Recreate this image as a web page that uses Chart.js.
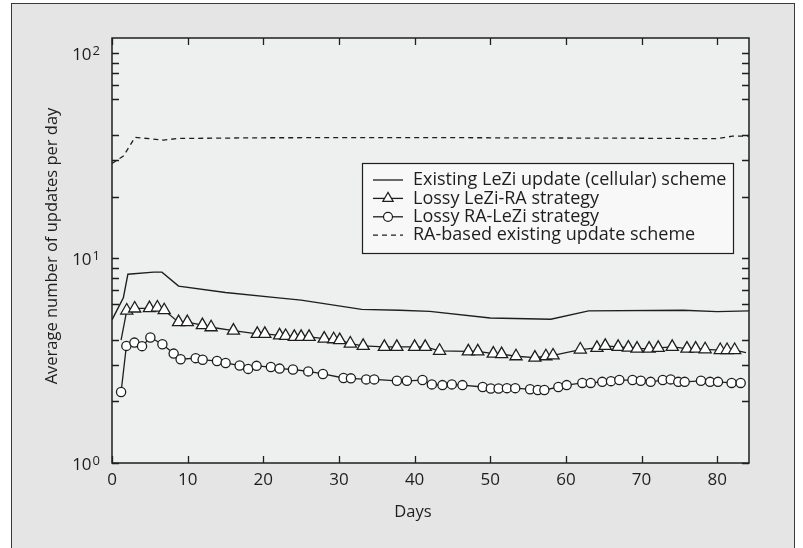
<!DOCTYPE html>
<html>
<head>
<meta charset="utf-8">
<script src="https://cdn.jsdelivr.net/npm/chart.js@4.4.1/dist/chart.umd.min.js"></script>
<style>
    html, body { margin: 0; padding: 0; background: #fff; }
    #wrap { position: relative; width: 803px; height: 548px; overflow: hidden; }
    #frame { position: absolute; left: 11px; top: 3px; width: 782px; height: 560px;
             border: 1px solid #3a3a3a; background: #e5e5e5; }
    #chart { position: absolute; left: 0; top: 0; }
</style>
</head>
<body>
<div id="wrap">
    <div id="frame"></div>
    <canvas id="chart" width="803" height="548"></canvas>
</div>
<script>
// series names
var series_names = [
    "Existing LeZi update (cellular) scheme",
    "Lossy LeZi-RA strategy",
    "Lossy RA-LeZi strategy",
    "RA-based existing update scheme"
];

// existing LeZi (solid line)
var lezi_days = [0, 1.5, 2.1, 5.5, 6.6, 8.8, 15, 22, 25, 33, 38, 42, 50, 58, 63, 75.5, 80, 84.2];
var lezi_vals = [5.0, 6.4, 8.35, 8.55, 8.55, 7.3, 6.8, 6.4, 6.24, 5.62, 5.57, 5.5, 5.1, 5.03, 5.53, 5.57, 5.48, 5.53];

// lossy LeZi-RA (triangles)
var lezira_days = [1.2, 1.95, 3.0, 4.95, 6.0, 6.9, 8.8, 9.95, 11.95, 13.1, 16.05, 19.2, 20.2, 22.15, 22.95,
    24.1, 25.0, 26.05, 28.05, 29.3, 30.1, 31.5, 33.2, 36.0, 37.65, 40.0, 41.4, 43.3, 47.1, 48.35, 50.4, 51.5,
    53.4, 55.9, 57.35, 58.3, 61.9, 64.1, 65.2, 66.9, 68.25, 69.4, 71.0, 72.2, 74.05, 76.0, 77.15, 78.4, 80.4,
    81.3, 82.3, 83.8];
var lezira_vals = [3.98, 5.55, 5.68, 5.7, 5.74, 5.57, 4.87, 4.87, 4.71, 4.6, 4.43, 4.27, 4.27, 4.2, 4.17,
    4.13, 4.13, 4.13, 4.05, 4.02, 3.98, 3.83, 3.73, 3.69, 3.69, 3.69, 3.69, 3.53, 3.51, 3.51, 3.42, 3.4,
    3.32, 3.27, 3.32, 3.35, 3.58, 3.65, 3.73, 3.69, 3.66, 3.62, 3.62, 3.65, 3.69, 3.62, 3.62, 3.59, 3.56,
    3.56, 3.56, 3.46];

// lossy RA-LeZi (circles)
var ralezi_days = [1.2, 1.9, 2.96, 3.97, 5.07, 6.66, 8.15, 9.07, 11.06, 11.98, 13.88, 15.02, 16.87, 18.0,
    19.11, 21.0, 22.15, 23.92, 25.94, 27.88, 30.6, 31.58, 33.6, 34.66, 37.66, 38.98, 41.04, 42.28, 43.68,
    44.92, 46.32, 49.0, 50.07, 51.1, 52.2, 53.3, 55.26, 56.28, 57.15, 59.0, 60.1, 62.17, 63.28, 64.8, 65.96,
    67.06, 68.8, 69.9, 71.2, 72.8, 73.85, 74.85, 75.7, 77.85, 79.05, 80.1, 81.9, 83.1];
var ralezi_vals = [2.22, 3.73, 3.87, 3.72, 4.1, 3.8, 3.42, 3.21, 3.25, 3.19, 3.15, 3.08, 2.99, 2.88,
    2.98, 2.94, 2.89, 2.86, 2.8, 2.72, 2.6, 2.59, 2.56, 2.56, 2.52, 2.52, 2.54, 2.42, 2.4,
    2.42, 2.4, 2.35, 2.31, 2.31, 2.32, 2.32, 2.29, 2.27, 2.27, 2.35, 2.4, 2.46, 2.46, 2.49, 2.51,
    2.54, 2.54, 2.52, 2.49, 2.54, 2.56, 2.49, 2.49, 2.52, 2.49, 2.49, 2.46, 2.46];

// RA-based existing (dashed)
var ra_days = [0, 1.5, 3.05, 6.8, 8.8, 20, 40, 60, 70, 80, 82, 84.2];
var ra_vals = [29.0, 31.5, 38.9, 37.7, 38.4, 38.7, 38.8, 38.6, 38.5, 38.3, 39.4, 39.5];

// axes
var x_ticks = [0, 10, 20, 30, 40, 50, 60, 70, 80];
var y_ticks = [1, 10, 100];
var y_minor = [2, 3, 4, 6, 7, 8, 9];
var x_title = "Days";
var y_title = "Average number of updates per day";

var FONT = "'Open Sans', sans-serif";
var INK = '#1e1e1e';

function pairs(days, vals) {
    return days.map(function (d, i) { return {x: d, y: vals[i]}; });
}

// no marker on the first/last point of the triangle series
function triRadius(c) {
    var n = lezira_days.length;
    return (c.dataIndex === 0 || c.dataIndex === n - 1) ? 0 : 7;
}

var boxPlugin = {
    id: 'box',
    beforeDatasetsDraw: function (chart) {
        var a = chart.chartArea, ctx = chart.ctx;
        ctx.save();
        ctx.fillStyle = '#edf0ef';
        ctx.fillRect(a.left, a.top, a.right - a.left, a.bottom - a.top);
        ctx.restore();
    },
    afterDraw: function (chart) {
        var a = chart.chartArea, ctx = chart.ctx;
        var xs = chart.scales.x, ys = chart.scales.y;
        ctx.save();

        // plot frame
        ctx.strokeStyle = INK;
        ctx.lineWidth = 1.5;
        ctx.strokeRect(a.left, a.top, a.right - a.left, a.bottom - a.top);

        // inward ticks
        ctx.lineWidth = 1.3;
        ctx.beginPath();
        x_ticks.forEach(function (v) {
            var px = Math.round(xs.getPixelForValue(v)) + 0.5;
            ctx.moveTo(px, a.bottom); ctx.lineTo(px, a.bottom - 7);
            ctx.moveTo(px, a.top); ctx.lineTo(px, a.top + 7);
        });
        var marks = y_ticks.slice();
        y_ticks.forEach(function (d) {
            y_minor.forEach(function (m) { if (d * m < ys.max) marks.push(d * m); });
        });
        marks.forEach(function (v) {
            var py = Math.round(ys.getPixelForValue(v)) + 0.5;
            ctx.moveTo(a.left, py); ctx.lineTo(a.left + 7, py);
            ctx.moveTo(a.right, py); ctx.lineTo(a.right - 7, py);
        });
        ctx.stroke();

        // y labels: 10 with exponent
        ctx.fillStyle = INK;
        y_ticks.forEach(function (v) {
            var py = ys.getPixelForValue(v);
            var ex = String(Math.round(Math.log10(v)));
            ctx.font = '13px ' + FONT;
            var ew = ctx.measureText(ex).width;
            ctx.textAlign = 'left';
            ctx.textBaseline = 'alphabetic';
            ctx.fillText(ex, a.left - 12 - ew, py + 2);
            ctx.font = '17px ' + FONT;
            ctx.textAlign = 'right';
            ctx.fillText('10', a.left - 13 - ew, py + 7);
        });

        // axis titles
        ctx.font = '16.5px ' + FONT;
        ctx.textAlign = 'center';
        ctx.textBaseline = 'middle';
        ctx.fillText(x_title, 413, 512);
        ctx.save();
        ctx.translate(52, 246);
        ctx.rotate(-Math.PI / 2);
        ctx.fillText(y_title, 0, 0);
        ctx.restore();

        // legend box
        var lx = 362, ly = 163, lw = 371, lh = 90;
        ctx.fillStyle = '#f7f8f7';
        ctx.fillRect(lx, ly, lw, lh);
        ctx.strokeStyle = INK;
        ctx.lineWidth = 1.2;
        ctx.strokeRect(lx + 0.5, ly + 0.5, lw, lh);

        var styles = [
            {dash: [], point: false},
            {dash: [], point: 'triangle', r: 6},
            {dash: [], point: 'circle', r: 4.5},
            {dash: [5, 4], point: false}
        ];
        series_names.forEach(function (name, i) {
            var cy = 180 + i * 18.4;
            var st = styles[i];
            ctx.strokeStyle = INK;
            ctx.lineWidth = 1.3;
            ctx.setLineDash(st.dash);
            ctx.beginPath();
            ctx.moveTo(373, cy); ctx.lineTo(403, cy);
            ctx.stroke();
            ctx.setLineDash([]);
            if (st.point) {
                ctx.fillStyle = '#fff';
                ctx.lineWidth = 1.2;
                Chart.helpers.drawPoint(ctx, {pointStyle: st.point, radius: st.r, borderWidth: 1.2, rotation: 0}, 388, cy);
            }
            ctx.fillStyle = INK;
            ctx.font = '18px ' + FONT;
            ctx.textAlign = 'left';
            ctx.textBaseline = 'middle';
            ctx.fillText(name, 413, cy);
        });

        ctx.restore();
    }
};

Chart.defaults.font.family = FONT;
Chart.defaults.color = INK;

var chart = new Chart(document.getElementById('chart'), {
    type: 'line',
    data: {
        datasets: [
            {
                label: series_names[0],
                data: pairs(lezi_days, lezi_vals),
                borderColor: INK,
                borderWidth: 1.4,
                pointRadius: 0
            },
            {
                label: series_names[1],
                data: pairs(lezira_days, lezira_vals),
                borderColor: INK,
                borderWidth: 1.3,
                pointStyle: 'triangle',
                pointRadius: triRadius,
                pointBackgroundColor: '#fff',
                pointBorderColor: INK,
                pointBorderWidth: 1.3
            },
            {
                label: series_names[2],
                data: pairs(ralezi_days, ralezi_vals),
                borderColor: INK,
                borderWidth: 1.3,
                pointStyle: 'circle',
                pointRadius: 4.6,
                pointBackgroundColor: '#fff',
                pointBorderColor: INK,
                pointBorderWidth: 1.3
            },
            {
                label: series_names[3],
                data: pairs(ra_days, ra_vals),
                borderColor: INK,
                borderWidth: 1.3,
                borderDash: [5, 4],
                pointRadius: 0
            }
        ]
    },
    options: {
        responsive: false,
        animation: false,
        layout: {
            padding: {left: 0, top: 38, right: 54, bottom: 0}
        },
        plugins: {
            legend: {display: false},
            tooltip: {enabled: false}
        },
        scales: {
            x: {
                type: 'linear',
                min: 0,
                max: 84.2,
                afterBuildTicks: function (scale) {
                    scale.ticks = x_ticks.map(function (v) { return {value: v}; });
                },
                afterFit: function (scale) { scale.height = 85; },
                grid: {display: false, drawTicks: false},
                border: {display: false},
                ticks: {
                    color: INK,
                    padding: 7,
                    maxRotation: 0,
                    font: {size: 17}
                }
            },
            y: {
                type: 'logarithmic',
                min: 1,
                max: 118.8,
                afterBuildTicks: function (scale) {
                    scale.ticks = y_ticks.map(function (v) { return {value: v}; });
                },
                afterFit: function (scale) { scale.width = 112; },
                grid: {display: false, drawTicks: false},
                border: {display: false},
                ticks: {display: false}
            }
        }
    },
    plugins: [boxPlugin]
});
</script>
</body>
</html>
